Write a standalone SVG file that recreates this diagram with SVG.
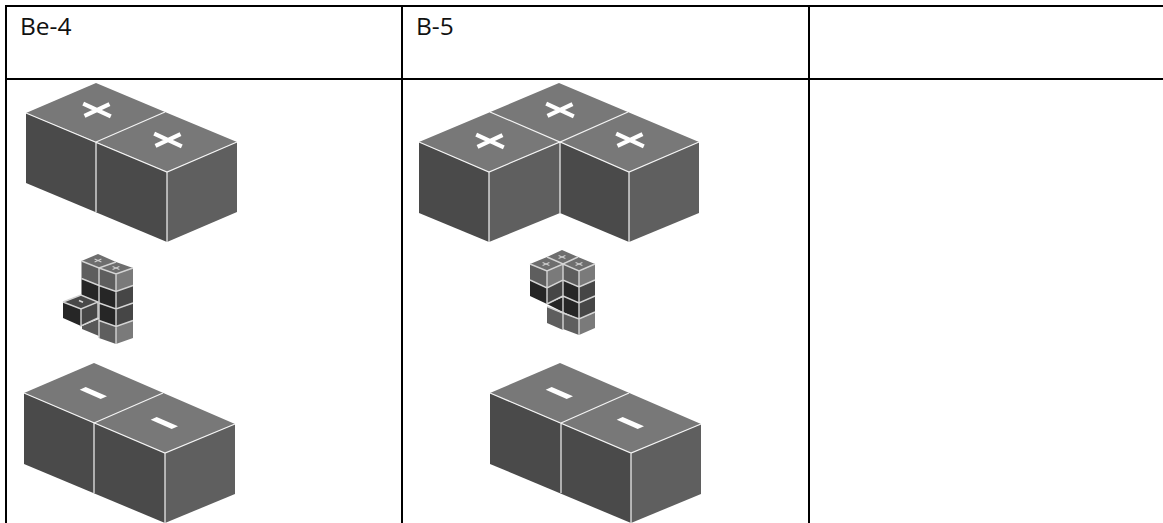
<svg xmlns="http://www.w3.org/2000/svg" width="1163" height="523" viewBox="0 0 1163 523">
<style>
.grid{stroke:#000;stroke-width:2;fill:none}
.t{fill:#787878}.l{fill:#4a4a4a}.r{fill:#5f5f5f}
.e{stroke:#f4f4f4;stroke-width:1.2;fill:none}
.se{stroke:#d4d4d4;stroke-width:1.4;fill:none}
.st{fill:#6e6e6e}.sm{fill:#5e5e5e}.sl{fill:#7a7a7a}.sd{fill:#262626}.sg{fill:#464646}
.lab{font-family:"Open Sans","Liberation Sans",sans-serif;font-size:24.5px;fill:#111}
</style>
<defs>
<g id="plus"><path d="M-13.8,-6.3L13.8,6.3M-12.5,5.8L12.5,-5.8" stroke="#fff" stroke-width="4.2" fill="none"/></g>
<polygon id="minus" points="-13.3,-3.3 -7.3,-6 14,3.3 7.7,6" fill="#fff"/>
<g id="tinyplus"><path d="M-3.4,-1.5L3.400,1.500M-3.400,1.500L3.400,-1.500" stroke="#cfcfcf" stroke-width="1.100" fill="none"/></g>
</defs>
<g id="table">
<path class="grid" d="M6,523V6H1163M402,6V523M809,6V523M6,79H1163"/>
</g>
<g id="label-be4"><text class="lab" x="20" y="35">Be-4</text></g>
<g id="label-b5"><text class="lab" x="416" y="35">B-5</text></g>

<g id="be4-top">
<polygon class="t" points="96,83 26,113 96,142 167,172 237,142 165,112"/>
<polygon class="l" points="26,113 167,172 167,242 26,183"/>
<polygon class="r" points="167,172 237,142 237,212 167,242"/>
<path class="e" d="M26,113L167,172L237,142M96,142L165,112M96,142V212M167,172V242"/>
<use href="#plus" x="97" y="110"/><use href="#plus" x="168" y="140"/>
</g>

<g id="be4-bottom">
<polygon class="t" points="94,363 24,393 165,453 235,424"/>
<polygon class="l" points="24,393 165,453 165,523 24,464"/>
<polygon class="r" points="165,453 235,424 235,494 165,523"/>
<path class="e" d="M24,393L165,453L235,424M94,423L163,393M94,423V493M165,453V523"/>
<use href="#minus" x="93" y="393"/><use href="#minus" x="164" y="423"/>
</g>

<g id="b5-top">
<polygon class="t" points="559,83 419,142 489,172 560,142 629,172 699,142"/>
<polygon class="l" points="419,142 489,172 489,242 419,213"/>
<polygon class="r" points="489,172 560,142 560,213 489,242"/>
<polygon class="l" points="560,142 629,172 629,242 560,213"/>
<polygon class="r" points="629,172 699,142 699,213 629,242"/>
<path class="e" d="M419,142L489,172L560,142L629,172L699,142M490,112L560,142L628,112M489,172V242M560,142V213M629,172V242"/>
<use href="#plus" x="560" y="110"/><use href="#plus" x="490" y="141"/><use href="#plus" x="630" y="140"/>
</g>

<g id="b5-bottom">
<polygon class="t" points="560,363 490,393 631,453 701,424"/>
<polygon class="l" points="490,393 631,453 631,523 490,464"/>
<polygon class="r" points="631,453 701,424 701,494 631,523"/>
<path class="e" d="M490,393L631,453L701,424M561,423L629,393M561,423V493M631,453V523"/>
<use href="#minus" x="559" y="393"/><use href="#minus" x="630" y="423"/>
</g>

<g id="be4-model">
<polygon class="st" points="98,254 81.500,261 99,268 116,262"/>
<polygon class="st" points="116,262 99,268 116,274 133,268"/>
<polygon class="sm" points="81.500,261 99,268 99,285.500 81.500,278.500"/>
<polygon class="sd" points="81.500,278.500 99,285.500 99,318 81.500,310"/>
<polygon fill="#585858" points="82,326 99,319 99,336 82,329"/>
<polygon class="sm" points="99,268 116,274 116,291.500 99,285.500"/>
<polygon class="sl" points="116,274 133,268 133,285.500 116,291.500"/>
<polygon class="sd" points="99,285.500 116,291.500 116,326.500 99,320.500"/>
<polygon class="sg" points="116,291.500 133,285.500 133,320.500 116,326.500"/>
<polygon class="sm" points="99,320.500 116,326.500 116,344 99,338"/>
<polygon class="sl" points="116,326.500 133,320.500 133,338 116,344"/>
<path class="se" d="M81.500,261L99,268L116,262M99,268L116,274L133,268M81.500,278.500L99,285.500L116,291.500L133,285.500M99,303L116,309L133,303M99,320.500L116,326.500L133,320.500M116,274V344M99,268V338"/>
<polygon fill="#484848" points="81,295 63,302 81,309 98,302"/>
<polygon class="sd" points="63,302 81,309 81,326 63,318"/>
<polygon class="sg" points="81,309 98,302 98,318 81,326"/>
<path class="se" d="M63,302L81,295L98,302L81,309L63,302M81,309V326L98,318V302"/>
<use href="#tinyplus" x="98" y="260.500"/><use href="#tinyplus" x="116" y="268"/>
<path d="M79,300.500L83,302.200" stroke="#d8d8d8" stroke-width="1.600"/>
</g>

<g id="b5-model">
<polygon class="st" points="562,250 547,257 563,264 578,257"/>
<polygon class="st" points="547,257 530,264 547,271 563,264"/>
<polygon class="st" points="578,257 563,264 579,271 595,264"/>
<polygon class="sm" points="530,264 547,271 547,288 530,280"/>
<polygon class="sl" points="547,271 563,264 563,280 547,288"/>
<polygon class="sd" points="530,280 547,288 547,304 530,296"/>
<polygon class="sg" points="547,288 563,280 563,296 547,304"/>
<polygon class="sd" points="547,304 563,297 563,312"/>
<polygon class="sm" points="547,306.500 563,313.500 563,330 547,323"/>
<polygon class="sm" points="563,264 579,271 579,287 563,280"/>
<polygon class="sl" points="579,271 595,264 595,280 579,287"/>
<polygon class="sd" points="563,280 579,287 579,319 563,312"/>
<polygon class="sg" points="579,287 595,280 595,312 579,319"/>
<polygon class="sm" points="563,313 579,319 579,335 563,329"/>
<polygon class="sl" points="579,319 595,312 595,328 579,335"/>
<path class="se" d="M530,264L547,271L563,264L579,271L595,264M547,257L563,264L578,257M530,280L547,288L563,280L579,287L595,280M563,296L579,303L595,296M547,304L563,296M547,306.500L563,313L579,319L595,312M547,271V304M563,264V330M579,271V335"/>
<use href="#tinyplus" x="546" y="264"/><use href="#tinyplus" x="562" y="257"/><use href="#tinyplus" x="579" y="264"/>
</g>
</svg>
